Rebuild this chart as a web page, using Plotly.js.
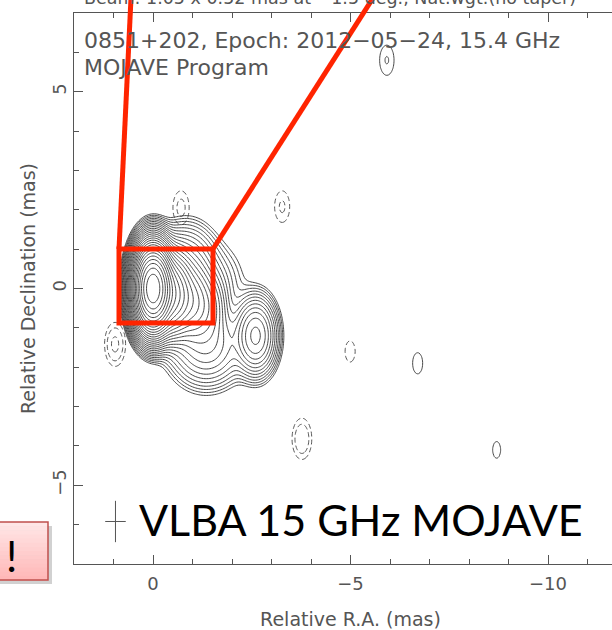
<!DOCTYPE html>
<html>
<head>
<meta charset="utf-8">
<script src="https://cdn.plot.ly/plotly-3.0.1.min.js"></script>
<style>
  html, body { margin: 0; padding: 0; background: #fff; overflow: hidden; }
  #map { width: 640px; height: 630px; }
</style>
</head>
<body>
<div id="map"></div>
<script>
// 0851+202 (OJ 287), VLBA 15.4 GHz, 2012-05-24 — clean components, convolved with the beam.
// Offsets in mas (RA positive to the east / left), peaks in units of the lowest contour.
const posRA      = [0.00, -0.50, -1.00, -1.40, -0.85, -1.70, -1.35, -2.60, -5.92, -6.70, -8.70];
const posDec     = [0.00, -0.15, -0.35, -0.50,  0.60,  0.15, -1.45, -1.20,  5.80, -1.90, -4.10];
const posPeak    = [8000,  600,   120,    35,    20,     3,    22,    50,   1.45,  1.20,  1.12];
const posFwhmRA  = [0.48, 0.55,  0.55,  0.55,  0.90,  0.90,  1.10,  0.60,  0.50,  0.50,  0.50];
const posFwhmDec = [1.05, 1.10,  1.10,  1.10,  1.20,  1.30,  1.20,  1.10,  1.05,  1.05,  1.05];

// Negative residual islands (drawn dashed)
const negRA      = [-0.71, -3.27,  0.96, -4.99, -3.77];
const negDec     = [ 2.05,  2.08, -1.42, -1.60, -3.82];
const negPeak    = [ 1.60,  1.50,  2.20,  1.20,  2.00];
const negFwhmRA  = [ 0.50,  0.50,  0.50,  0.50,  0.50];
const negFwhmDec = [ 1.05,  1.05,  1.05,  1.05,  1.05];

// Contours: lowest level, successive levels increase by sqrt(2)
const contourStep = 0.5;   // in log2 units
const contourTop  = 14;

const xTicks = [0, -5, -10];
const xTickText = ['0', '\u22125', '\u221210'];
const yTicks = [-5, 0, 5];
const yTickText = ['\u22125', '0', '5'];

const beamMaj = 1.05, beamMin = 0.52;
const beamRA = 0.95, beamDec = -5.92;

// ---- map grid (ascending in both directions) ----
const step = 0.04;
const gx = [], gy = [];
for (let v = -12; v <= 2 + 1e-9; v += step) gx.push(+v.toFixed(3));
for (let v = -7; v <= 7 + 1e-9; v += step) gy.push(+v.toFixed(3));
const K = 1 / (8 * Math.LN2);   // fwhm^2 -> sigma^2 factor

function field(ra, dec, pk, fr, fd) {
  const z = [];
  for (let j = 0; j < gy.length; j++) {
    const row = new Array(gx.length);
    for (let i = 0; i < gx.length; i++) {
      let s = 0;
      for (let c = 0; c < ra.length; c++) {
        const dx = gx[i] - ra[c], dy = gy[j] - dec[c];
        const sx2 = fr[c] * fr[c] * K, sy2 = fd[c] * fd[c] * K;
        s += pk[c] * Math.exp(-0.5 * (dx * dx / sx2 + dy * dy / sy2));
      }
      row[i] = Math.log2(Math.max(s, 1e-9));
    }
    z.push(row);
  }
  return z;
}

const zPos = field(posRA, posDec, posPeak, posFwhmRA, posFwhmDec);
const zNeg = field(negRA, negDec, negPeak, negFwhmRA, negFwhmDec);

const traces = [
  {
    type: 'contour', x: gx, y: gy, z: zPos,
    contours: { coloring: 'none', start: 0, end: contourTop, size: contourStep },
    line: { color: '#333', width: 0.9, smoothing: 1 },
    showscale: false, hoverinfo: 'skip'
  },
  {
    type: 'contour', x: gx, y: gy, z: zNeg,
    contours: { coloring: 'none', start: 0, end: contourTop, size: contourStep },
    line: { color: '#444', width: 0.9, dash: '5px,3px', smoothing: 1 },
    showscale: false, hoverinfo: 'skip'
  },
  // restoring beam cross
  {
    type: 'scatter', mode: 'lines',
    x: [beamRA, beamRA, null, beamRA + beamMin / 2, beamRA - beamMin / 2],
    y: [beamDec - beamMaj / 2, beamDec + beamMaj / 2, null, beamDec, beamDec],
    line: { color: '#555', width: 1 }, hoverinfo: 'skip', showlegend: false
  }
];

// ---- page-level helpers (pixel -> paper) ----
const L = 74, T = 13, W = 553, H = 551;
const px = v => (v - L) / W;
const py = v => (T + H - v) / H;

const shapes = [];
// callout box with soft shadow and pink gradient
shapes.push({ type: 'rect', xref: 'paper', yref: 'paper', x0: px(-10), x1: px(52), y0: py(584), y1: py(526),
  fillcolor: 'rgba(0,0,0,0.18)', line: { width: 0 }, layer: 'above' });
const bands = 14, top0 = 522, bot0 = 580;
for (let b = 0; b < bands; b++) {
  const t = b / (bands - 1);
  const g = Math.round(0xE6 - t * (0xE6 - 0xB8));
  const col = `rgb(255,${g},${g})`;
  shapes.push({ type: 'rect', xref: 'paper', yref: 'paper', x0: px(-10), x1: px(48),
    y0: py(top0 + (b + 1) * (bot0 - top0) / bands + 0.5), y1: py(top0 + b * (bot0 - top0) / bands),
    fillcolor: col, line: { width: 0 }, layer: 'above' });
}
shapes.push({ type: 'rect', xref: 'paper', yref: 'paper', x0: px(-10), x1: px(48), y0: py(bot0), y1: py(top0),
  fillcolor: 'rgba(0,0,0,0)', line: { color: '#C0504D', width: 1.5 }, layer: 'above' });

// zoom box and leader lines
const red = 'rgb(255,36,0)';
shapes.push({ type: 'rect', xref: 'paper', yref: 'paper', x0: px(119), x1: px(213), y0: py(323), y1: py(249),
  line: { color: red, width: 5 }, layer: 'above' });
shapes.push({ type: 'line', xref: 'paper', yref: 'paper', x0: px(119), y0: py(249), x1: px(131), y1: py(-2),
  line: { color: red, width: 5 }, layer: 'above' });
shapes.push({ type: 'line', xref: 'paper', yref: 'paper', x0: px(213), y0: py(249), x1: px(373), y1: py(-2),
  line: { color: red, width: 5 }, layer: 'above' });

const hershey = { family: 'DejaVu Sans', color: '#555' };
const annotations = [
  { xref: 'paper', yref: 'paper', x: px(82), y: py(-2), xanchor: 'left', yanchor: 'middle', showarrow: false,
    text: 'Beam: 1.05 x 0.52 mas at \u22121.5 deg., Nat.wgt.(no taper)', font: { ...hershey, size: 17.5 } },
  { xref: 'paper', yref: 'paper', x: px(82), y: py(40), xanchor: 'left', yanchor: 'middle', showarrow: false,
    text: '0851+202, Epoch: 2012\u221205\u221224, 15.4 GHz', font: { ...hershey, size: 22 } },
  { xref: 'paper', yref: 'paper', x: px(82), y: py(68), xanchor: 'left', yanchor: 'middle', showarrow: false,
    text: 'MOJAVE Program', font: { ...hershey, size: 22 } },
  { xref: 'paper', yref: 'paper', x: px(137), y: py(519), xanchor: 'left', yanchor: 'middle', showarrow: false,
    text: 'VLBA 15 GHz MOJAVE', font: { family: 'Lato', size: 43, color: '#000' } },
  { xref: 'paper', yref: 'paper', x: px(11), y: py(556), xanchor: 'center', yanchor: 'middle', showarrow: false,
    text: '!', font: { family: 'Lato', size: 42, color: '#000' } }
];

const axisCommon = {
  showline: true, linecolor: '#555', linewidth: 1, mirror: 'ticks',
  ticks: 'inside', ticklen: 9, tickwidth: 1, tickcolor: '#555',
  minor: { dtick: 1, ticks: 'inside', ticklen: 5, tickwidth: 1, tickcolor: '#555' },
  showgrid: false, zeroline: false, tickfont: { ...hershey, size: 18 }, fixedrange: true
};

const layout = {
  width: 640, height: 630,
  margin: { l: L, r: 640 - L - W, t: T, b: 630 - T - H },
  paper_bgcolor: '#fff', plot_bgcolor: '#fff', showlegend: false,
  xaxis: { ...axisCommon, range: [2, -12], tickmode: 'array', tickvals: xTicks, ticktext: xTickText,
    ticklabelstandoff: 3,
    title: { text: 'Relative R.A. (mas)', font: { ...hershey, size: 19 }, standoff: 26 } },
  yaxis: { ...axisCommon, range: [-7, 7], tickmode: 'array', tickvals: yTicks, ticktext: yTickText, tickangle: -90,
    title: { text: 'Relative Declination (mas)', font: { ...hershey, size: 19 }, standoff: 8 } },
  shapes, annotations
};

Plotly.newPlot('map', traces, layout, { staticPlot: true });
</script>
</body>
</html>
